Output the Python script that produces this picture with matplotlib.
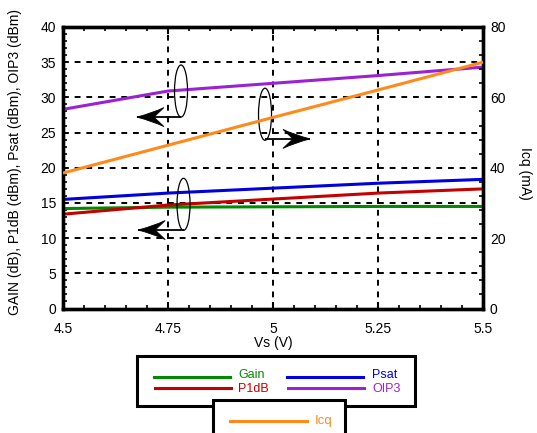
import matplotlib
matplotlib.use("Agg")
import matplotlib.pyplot as plt
import numpy as np
from matplotlib.patches import Ellipse, Rectangle
from matplotlib.lines import Line2D
from matplotlib.path import Path
from matplotlib.patches import PathPatch
from matplotlib.ticker import MultipleLocator, FixedLocator
import matplotlib.transforms as mtransforms

plt.rcParams['font.family'] = ['Liberation Sans', 'DejaVu Sans']

# ---- data ----
vs = [4.5, 4.75, 5.0, 5.25, 5.5]
gain = [14.2, 14.4, 14.45, 14.5, 14.5]
p1db = [13.4, 14.7, 15.55, 16.4, 17.0]
psat = [15.5, 16.4, 17.1, 17.8, 18.35]
oip3 = [28.3, 30.9, 32.0, 33.1, 34.3]
icq = [38.5, 46.4, 54.3, 62.1, 70.0]

x_ticks = [4.5, 4.75, 5.0, 5.25, 5.5]
x_tick_labels = ["4.5", "4.75", "5", "5.25", "5.5"]

names_left = ["Gain", "P1dB", "Psat", "OIP3"]
colors_left = ["#008a00", "#c40000", "#0000e0", "#9a22d4"]
icq_name = "Icq"
icq_color = "#ff8a1c"

FS = 10
LFS = 9
W, H = 537, 433
fig = plt.figure(figsize=(W / 100, H / 100), dpi=100)
ax = fig.add_axes([63 / W, 1 - 308.5 / H, 420 / W, 281.5 / H])
ax2 = ax.twinx()

series = [gain, p1db, psat, oip3]
for vals, c in zip(series, colors_left):
    ax.plot(vs, vals, color=c, lw=2.2, solid_capstyle='butt', zorder=3)
ax2.plot(vs, icq, color=icq_color, lw=2.2, solid_capstyle='butt', zorder=3)

ax.set_xlim(4.5, 5.5)
ax.set_ylim(0, 40)
ax2.set_ylim(0, 80)
ax.xaxis.set_major_locator(FixedLocator(x_ticks))
ax.set_xticklabels(x_tick_labels)
ax.xaxis.set_minor_locator(MultipleLocator(0.05))
ax.yaxis.set_major_locator(MultipleLocator(5))
ax.yaxis.set_minor_locator(MultipleLocator(1))
ax2.yaxis.set_major_locator(MultipleLocator(20))
ax2.yaxis.set_minor_locator(MultipleLocator(4))

ax.grid(True, which='major', color='black', lw=1.4, ls=(0, (3, 3)))
ax.set_axisbelow(True)

for a in (ax, ax2):
    for s in a.spines.values():
        s.set_linewidth(2.4)

ax.tick_params(axis='x', which='both', direction='in', top=True, bottom=True,
               labelsize=FS, pad=9.5)
ax.tick_params(axis='x', which='major', length=5, width=1.5)
ax.tick_params(axis='x', which='minor', length=3, width=1.2)
ax.tick_params(axis='y', which='both', direction='in', left=True, right=False,
               labelsize=FS, pad=5)
ax.tick_params(axis='y', which='major', length=0)
ax.tick_params(axis='y', which='minor', length=3, width=1.2)
ax2.tick_params(axis='y', which='both', direction='in', labelsize=FS, pad=5)
ax2.tick_params(axis='y', which='major', length=0)
ax2.tick_params(axis='y', which='minor', length=3, width=1.2)

ax.set_xlabel("Vs (V)", fontsize=FS, labelpad=0)
ax.set_ylabel("GAIN (dB), P1dB (dBm), Psat (dBm), OIP3 (dBm)", fontsize=FS)
ax.yaxis.set_label_coords(-0.098, 0.52)
ax2.set_ylabel("Icq (mA)", fontsize=FS, rotation=270, va='center')
ax2.yaxis.set_label_coords(1.10, 0.48)

# ---- annotations: ellipses and arrows ----
def ell(xc, yc):
    e = Ellipse((xc, yc), 0.031, 7.4, fill=False, ec='black', lw=0.9, zorder=5)
    ax.add_patch(e)

def arrow(x0, x1, y):
    ax.plot([x0, x1], [y, y], color='black', lw=1.3, zorder=5, solid_capstyle='butt')
    d = 1 if x1 > x0 else -1
    L, Hh, N = 27, 9.5, 17
    verts = [(0, 0), (-d * 0.6 * L, 0.45 * Hh), (-d * L, Hh), (-d * N, 0),
             (-d * L, -Hh), (-d * 0.6 * L, -0.45 * Hh), (0, 0)]
    codes = [Path.MOVETO, Path.CURVE3, Path.CURVE3, Path.LINETO,
             Path.LINETO, Path.CURVE3, Path.CURVE3]
    verts = [(vx / 100.0, vy / 100.0) for vx, vy in verts]
    tr = fig.dpi_scale_trans + mtransforms.ScaledTranslation(x1, y, ax.transData)
    ax.add_patch(PathPatch(Path(verts, codes), fc='black', ec='black', lw=0.6,
                           transform=tr, zorder=6, clip_on=False))

ell(4.781, 30.9)
arrow(4.781, 4.676, 27.2)
ell(4.981, 27.6)
arrow(4.981, 5.088, 24.1)
ell(4.787, 14.8)
arrow(4.787, 4.679, 11.15)

# ---- manual legend ----
def fx(p):
    return p / W

def fy(p):
    return 1 - p / H

fig.add_artist(Rectangle((fx(137), fy(406)), 278 / W, 50 / H, transform=fig.transFigure,
                         fill=True, fc='white', ec='black', lw=2.2))
rows = [(154, 230, 238, 377, 375.5), (155, 231, 238, 388, 388.5),
        (287, 363, 372, 377, 375.5), (288, 364, 372, 388, 388.5)]
for (xa, xb, xt, yy, yt), nm, c in zip(rows, names_left, colors_left):
    fig.add_artist(Line2D([fx(xa), fx(xb)], [fy(yy), fy(yy)], color=c, lw=2.2,
                          transform=fig.transFigure))
    fig.text(fx(xt), fy(yt), nm, color=c, fontsize=LFS, va='center', ha='left')

fig.add_artist(Rectangle((fx(213), fy(445)), 132 / W, 45 / H, transform=fig.transFigure,
                         fill=True, fc='white', ec='black', lw=2.2))
fig.add_artist(Line2D([fx(230), fx(307)], [fy(421), fy(421)], color=icq_color, lw=2.2,
                      transform=fig.transFigure))
fig.text(fx(315), fy(421), icq_name, color=icq_color, fontsize=LFS + 0.5, va='center', ha='left')

fig.savefig("out.png", dpi=100)
